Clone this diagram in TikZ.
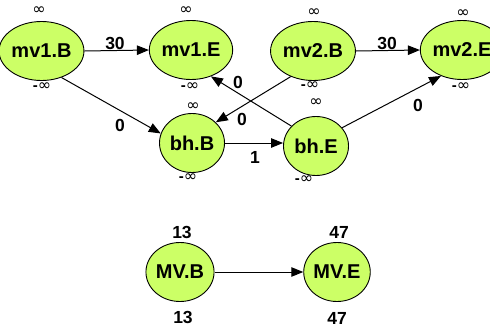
\documentclass[tikz,border=0pt]{standalone}
\usepackage{fontspec}
\setmainfont{Liberation Sans}
\newfontfamily\inffont{DejaVu Sans}
\usetikzlibrary{shapes.geometric,arrows.meta}
\definecolor{nodefill}{RGB}{204,255,102}
\begin{document}
\begin{tikzpicture}[x=1pt,y=-1pt,
  ev/.style={ellipse,draw=black,line width=0.9pt,fill=nodefill,minimum width=65pt,minimum height=59pt,inner sep=0pt,font=\fontsize{20}{20}\selectfont\bfseries},
  inf/.style={inner sep=0pt,font=\fontsize{16}{16}\selectfont},
  wlab/.style={inner sep=0pt,font=\fontsize{17.5}{17.5}\selectfont\bfseries},
  edge/.style={line width=1pt,-{Triangle[length=12pt,width=9.5pt]}}]
\useasboundingbox (0,0) rectangle (490,327);
\node[ev] (mv1B) at (41.5,51) {mv1.B};
\node[ev] (mv1E) at (191,50) {mv1.E};
\node[ev] (mv2B) at (313,51) {mv2.B};
\node[ev] (mv2E) at (462,50) {mv2.E};
\node[ev] (bhB) at (192,143) {bh.B};
\node[ev] (bhE) at (316,146) {bh.E};
\node[ev] (MVB) at (180,272) {MV.B};
\node[ev] (MVE) at (337,272) {MV.E};
% infinity labels
\node[inf] (i1) at (39,11) {\inffont ∞};
\node[inf] (i2) at (42,87) {{\bfseries\fontsize{15}{15}\selectfont -}\inffont ∞};
\node[inf] (i3) at (186,11) {\inffont ∞};
\node[inf] (i4) at (190,87) {{\bfseries\fontsize{15}{15}\selectfont -}\inffont ∞};
\node[inf] (i5) at (314,13) {\inffont ∞};
\node[inf] (i6) at (310,86) {{\bfseries\fontsize{15}{15}\selectfont -}\inffont ∞};
\node[inf] (i7) at (463,14) {\inffont ∞};
\node[inf] (i8) at (461,87) {{\bfseries\fontsize{15}{15}\selectfont -}\inffont ∞};
\node[inf] (i9) at (193,107) {\inffont ∞};
\node[inf] (i10) at (188,178) {{\bfseries\fontsize{15}{15}\selectfont -}\inffont ∞};
\node[inf] (i11) at (316,103) {\inffont ∞};
\node[inf] (i12) at (304,180) {{\bfseries\fontsize{15}{15}\selectfont -}\inffont ∞};
% MV labels
\node[wlab] (m1) at (182,232) {13};
\node[wlab] (m2) at (183,317) {13};
\node[wlab] (m3) at (339,232) {47};
\node[wlab] (m4) at (337,318) {47};
% edges
\draw[edge] (mv1B.east) -- (mv1E.west);
\draw[edge] (mv2B.east) -- (mv2E.west);
\draw[edge] (mv1B.-53) -- (bhB.163);
\draw[edge] (mv2B.-131) -- (bhB.41);
\draw[edge] (bhE.141) -- (mv1E.-53);
\draw[edge] (bhE.35) -- (mv2E.-129);
\draw[edge] (bhB.east) -- (bhE.west |- bhB.east);
\draw[edge] (MVB.east) -- (MVE.west);
% edge labels
\node[wlab] (l1) at (115,43) {30};
\node[wlab] (l2) at (387,43) {30};
\node[wlab] (l3) at (120,125) {0};
\node[wlab] (l4) at (238,82) {0};
\node[wlab] (l5) at (242,119) {0};
\node[wlab] (l6) at (255,157) {1};
\node[wlab] (l7) at (418,105) {0};
\end{tikzpicture}
\end{document}
